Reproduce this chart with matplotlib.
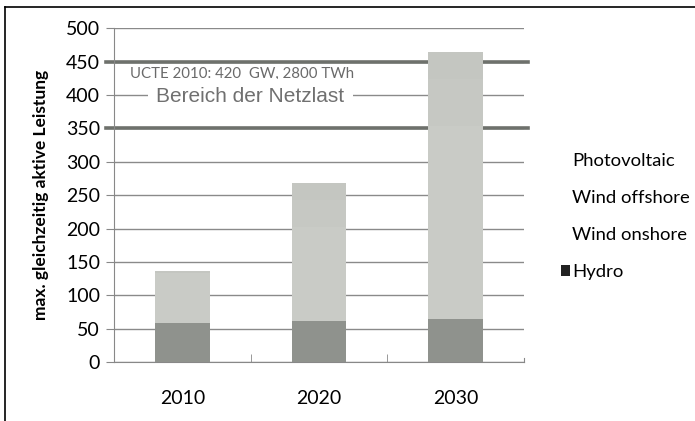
import numpy as np
import matplotlib
matplotlib.use("Agg")
import matplotlib.pyplot as plt
from matplotlib.patches import Patch
from matplotlib.lines import Line2D

# === DATA ===
years = ["2010", "2020", "2030"]
hydro = [58, 61, 64]
wind_onshore = [75, 142, 290]
wind_offshore = [1, 40, 70]
photovoltaic = [2, 25, 40]
net_load_low = 350
net_load_high = 450

series_names = ["Hydro", "Wind onshore", "Wind offshore", "Photovoltaic"]
series_values = [hydro, wind_onshore, wind_offshore, photovoltaic]
colors = ["#8f928d", "#c9cbc6", "#c6c8c3", "#c4c6c1"]

plt.rcParams['font.family'] = ['Lato', 'DejaVu Sans']

fig = plt.figure(figsize=(6.95, 4.21), dpi=100)
ax = fig.add_axes([0.164, 0.140, 0.590, 0.793])

x = np.arange(len(years))
bottom = np.zeros(len(years))
for name, vals, col in zip(series_names, series_values, colors):
    ax.bar(x, vals, width=0.4, bottom=bottom, color=col, zorder=3)
    bottom += np.array(vals)

ax.set_xlim(-0.5, 2.5)
ax.set_ylim(0, 500)
ax.set_yticks(np.arange(0, 501, 50))
ax.set_xticks(x)
ax.set_xticklabels(years)
ax.set_xticks([0.5, 1.5], minor=True)
ax.tick_params(axis='x', which='major', length=0, pad=20, labelsize=14)
ax.tick_params(axis='x', which='minor', length=6, color="#888888", direction='in')
ax.tick_params(axis='y', length=6, color="#888888", labelsize=14, pad=4)

ax.yaxis.grid(True, color="#8a8a8a", linewidth=1, zorder=0)
for sp in ["top", "right"]:
    ax.spines[sp].set_visible(False)
for sp in ["left", "bottom"]:
    ax.spines[sp].set_color("#888888")
ax.spines["right"].set_visible(True)
ax.spines["right"].set_color("#888888")
ax.spines["right"].set_bounds(0, 6)

# band of net load
for yv in [net_load_low, net_load_high]:
    ax.axhline(yv, xmin=-0.02, xmax=1.01, color="#6e716c", linewidth=2.6,
               clip_on=False, zorder=2)

ax.text(-0.385, 432, "UCTE 2010: 420  GW, 2800 TWh", fontsize=10.8,
        color="#6a6a6a", va='center', ha='left', zorder=4)
ax.text(-0.19, 397, "Bereich der Netzlast", fontsize=15,
        family=['Liberation Sans', 'DejaVu Sans'], color="#707070",
        va='center', ha='left', zorder=4,
        bbox=dict(facecolor='white', edgecolor='none', pad=6))

ax.set_ylabel("max. gleichzeitig aktive Leistung", fontsize=12.5,
              fontweight='bold', labelpad=12)

# legend (light series faded as in the scan)
handles = [
    Patch(facecolor="white", edgecolor='none'),
    Patch(facecolor="white", edgecolor='none'),
    Patch(facecolor="white", edgecolor='none'),
    Patch(facecolor="#222222", edgecolor='none'),
]
labels = ["Photovoltaic", "Wind offshore", "Wind onshore", "Hydro"]
fig.legend(handles, labels, loc='center left', bbox_to_anchor=(0.783, 0.486),
           frameon=False, fontsize=13.3, handlelength=0.5, handleheight=0.5,
           handletextpad=0.1, labelspacing=1.15)

# outer frame (scan border)
fig.add_artist(Line2D([0.007, 0.007], [0.0, 0.983], color='black', linewidth=1.2))
fig.add_artist(Line2D([0.007, 1.0], [0.983, 0.983], color='black', linewidth=1.2))

fig.savefig("out.png", dpi=100)
